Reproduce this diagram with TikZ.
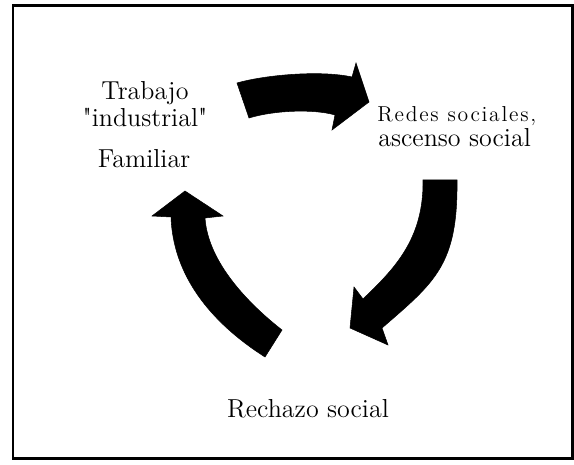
\documentclass[tikz,border=0pt]{standalone}
\usepackage{fontspec}
\newfontfamily\spacedfont[LetterSpace=8]{Latin Modern Roman}
\usetikzlibrary{positioning}

\begin{document}
\begin{tikzpicture}[x=0.02cm, y=-0.02cm, on grid,
    label/.style={inner sep=0pt, font=\fontsize{14.8}{18}\selectfont},
    smalllabel/.style={inner sep=0pt, font=\spacedfont\fontsize{12.3}{14}\selectfont},
    blockarrow/.style={fill=black, draw=black, line width=0.3pt, line join=miter}]
    \useasboundingbox (0,0) rectangle (574,465);
    \draw[line width=0.06cm] (13,5.5) rectangle (572.5,458);

    \node[label, anchor=base] (trabajo) at (145,100) {Trabajo};
    \node[label] (industrial) [below=0.534cm of trabajo.base, anchor=base] {\textquotedbl industrial\textquotedbl};
    \node[label] (familiar) [below=0.826cm of industrial.base, anchor=base, xshift=-0.02cm] {Familiar};
    \node[smalllabel, anchor=base west] (redes) at (377,122) {Redes sociales,};
    \node[label] (ascenso) [below=0.494cm of redes.base west, anchor=base west, xshift=0.02cm] {ascenso social};
    \node[label, anchor=base] (rechazo) at (308,418) {Rechazo social};

    % top arrow
    \path[blockarrow] (237,83) .. controls (265,75) and (320,70) .. (352,77)
        -- (356,63) -- (369,102) -- (332,130) -- (335,115)
        .. controls (315,109) and (275,110) .. (249,118) -- cycle;
    % right arrow
    \path[blockarrow] (423,180) -- (457,180) .. controls (458,265) and (435,282) .. (382,328)
        -- (388,345) -- (350,328) -- (354,287) -- (363,299)
        .. controls (393,270) and (424,240) .. cycle;
    % left arrow
    \path[blockarrow] (185,191) -- (223,216) -- (205,218)
        .. controls (208,263) and (250,305) .. (282,330) -- (265,357)
        .. controls (210,322) and (173,275) .. (171,217) -- (152,216) -- cycle;
\end{tikzpicture}
\end{document}
